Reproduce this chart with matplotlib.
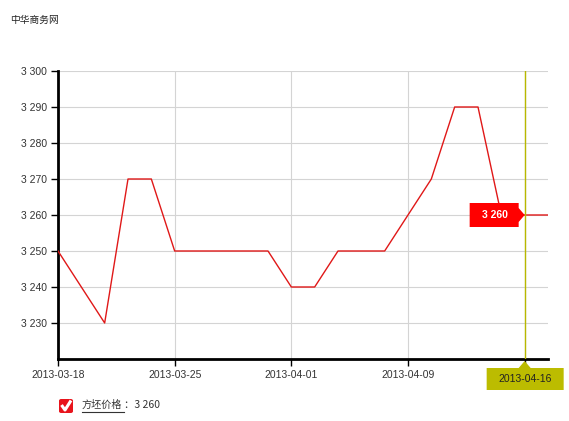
import matplotlib
matplotlib.use("Agg")
import matplotlib.pyplot as plt
import matplotlib.patches as mpatches
from matplotlib.ticker import FuncFormatter

# trading days shown on the chart
dates = ['2013-03-18', '2013-03-19', '2013-03-20', '2013-03-21', '2013-03-22',
         '2013-03-25', '2013-03-26', '2013-03-27', '2013-03-28', '2013-03-29',
         '2013-04-01', '2013-04-02', '2013-04-03', '2013-04-07', '2013-04-08',
         '2013-04-09', '2013-04-10', '2013-04-11', '2013-04-12', '2013-04-15',
         '2013-04-16', '2013-04-17']
prices = [3250, 3240, 3230, 3270, 3270, 3250, 3250, 3250, 3250, 3250,
          3240, 3240, 3250, 3250, 3250, 3260, 3270, 3290, 3290, 3260,
          3260, 3260]
yticks = [3230, 3240, 3250, 3260, 3270, 3280, 3290, 3300]
cross_date = '2013-04-16'
series_name = '方坯价格'
site_name = '中华商务网'

W, H = 569, 421
plt.rcParams['font.family'] = ['Liberation Sans', 'Noto Sans CJK SC', 'DejaVu Sans']
fig = plt.figure(figsize=(W / 100, H / 100), dpi=100)


def fx(x):
    return x / W


def fy(y):
    return 1 - y / H


def fmt(v, pos=None):
    s = f'{int(v):,}'
    return s.replace(',', ' ')


ax = fig.add_axes([fx(58), fy(359), fx(548) - fx(58), fy(71) - fy(359)])
xs = list(range(len(dates)))
ax.plot(xs, prices, color='#e01818', lw=1.0, zorder=3)
ax.set_xlim(0, len(dates) - 1)
ax.set_ylim(3220, 3300)

ax.set_yticks(yticks)
ax.yaxis.set_major_formatter(FuncFormatter(fmt))
tick_idx = [0, 5, 10, 15, 20]
ax.set_xticks(tick_idx)
ax.set_xticklabels([dates[i] if dates[i] != cross_date else '' for i in tick_idx])

for s in ['top', 'right']:
    ax.spines[s].set_visible(False)
for s in ['left', 'bottom']:
    ax.spines[s].set_linewidth(2)
    ax.spines[s].set_color('black')
ax.tick_params(axis='both', colors='black', labelcolor='#333333', labelsize=7.5,
               length=5, width=1)
ax.tick_params(axis='y', pad=3)
ax.tick_params(axis='x', pad=3)
ax.grid(True, color='#d4d4d4', lw=0.8)
ax.set_axisbelow(True)

# crosshair at selected date
ci = dates.index(cross_date)
cv = prices[ci]
ax.axvline(ci, color='#b8b800', lw=1.0, zorder=4)

fig.canvas.draw()
px, py = ax.transData.transform((ci, cv))
# convert display pixels (origin bottom-left) to top-origin pixel coords
pxx, pyy = px, H - py

# value label (red box pointing right)
box = [(pxx - 55, pyy - 12), (pxx - 6, pyy - 12), (pxx - 6, pyy - 7), (pxx, pyy),
       (pxx - 6, pyy + 7), (pxx - 6, pyy + 12), (pxx - 55, pyy + 12)]
fig.patches.append(mpatches.Polygon([(fx(a), fy(b)) for a, b in box], closed=True,
                                    transform=fig.transFigure, facecolor='#ff0000',
                                    edgecolor='none', zorder=10))
fig.text(fx(pxx - 30), fy(pyy), fmt(cv), color='white', fontsize=7.5,
         fontweight='bold', ha='center', va='center', zorder=11)

# date label (olive box pointing up)
by = 359
dbox = [(pxx - 38, by + 9), (pxx - 6, by + 9), (pxx, by + 2), (pxx + 6, by + 9),
        (pxx + 39, by + 9), (pxx + 39, by + 31), (pxx - 38, by + 31)]
fig.patches.append(mpatches.Polygon([(fx(a), fy(b)) for a, b in dbox], closed=True,
                                    transform=fig.transFigure, facecolor='#bcbc00',
                                    edgecolor='none', zorder=10))
fig.text(fx(pxx), fy(by + 20), cross_date, color='#222222', fontsize=7.5,
         ha='center', va='center', zorder=11)

# site name
fig.text(fx(10), fy(20), site_name, fontsize=7, color='#222222',
         ha='left', va='center', family=['Noto Sans CJK SC', 'DejaVu Sans'])

# legend: red check box, underlined name, value
fig.patches.append(mpatches.FancyBboxPatch((fx(59), fy(413)), fx(14), fy(399) - fy(413),
                                           boxstyle='round,pad=0,rounding_size=0.004',
                                           transform=fig.transFigure,
                                           facecolor='#e8141c', edgecolor='none'))
fig.lines.append(plt.Line2D([fx(61.5), fx(65), fx(71)], [fy(405), fy(410), fy(400.5)],
                            transform=fig.transFigure, color='white', lw=2.2,
                            solid_capstyle='butt'))
t = fig.text(fx(82), fy(405), series_name, fontsize=7.3, color='#333333',
             ha='left', va='center', family=['Noto Sans CJK SC', 'DejaVu Sans'])
fig.lines.append(plt.Line2D([fx(82), fx(124)], [fy(411.5), fy(411.5)],
                            transform=fig.transFigure, color='#333333', lw=0.8))
fig.text(fx(124), fy(405), '：' + fmt(cv), fontsize=7.5, color='#333333',
         ha='left', va='center', family=['Noto Sans CJK SC', 'DejaVu Sans'])

fig.savefig('out.png', dpi=100)
